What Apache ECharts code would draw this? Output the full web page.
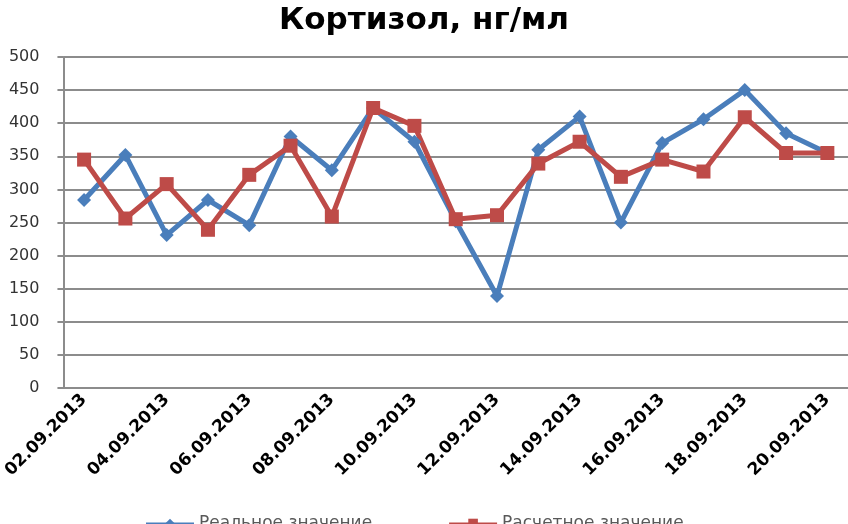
<!DOCTYPE html>
<html>
<head>
<meta charset="utf-8">
<script src="https://cdn.jsdelivr.net/npm/echarts@6/dist/echarts.min.js"></script>
<style>
  html, body { margin: 0; padding: 0; background: #fff; }
  #chart { width: 848px; height: 524px; }
</style>
</head>
<body>
<div id="chart"></div>
<script>
  // даты измерений
  var dates = ['02.09.2013', '03.09.2013', '04.09.2013', '05.09.2013', '06.09.2013',
    '07.09.2013', '08.09.2013', '09.09.2013', '10.09.2013', '11.09.2013',
    '12.09.2013', '13.09.2013', '14.09.2013', '15.09.2013', '16.09.2013',
    '17.09.2013', '18.09.2013', '19.09.2013', '20.09.2013'];
  var realValues = [284, 352, 231, 284, 246, 380, 329, 423, 372, 252,
    139, 360, 410, 250, 370, 406, 450, 385, 355];
  var calcValues = [345, 256, 308, 239, 322, 366, 259, 423, 396, 255,
    261, 339, 372, 319, 345, 327, 409, 355, 355];
  var yTicks = [0, 50, 100, 150, 200, 250, 300, 350, 400, 450, 500];

  var chart = echarts.init(document.getElementById('chart'));
  chart.setOption({
    animation: false,
    title: {
      text: 'Кортизол, нг/мл',
      left: 'center',
      top: 0,
      textStyle: {
        fontFamily: 'DejaVu Sans',
        fontWeight: 'bold',
        fontSize: 31,
        color: '#000'
      }
    },
    legend: {
      left: 140,
      top: 510,
      itemWidth: 48,
      itemHeight: 12,
      itemGap: 76,
      textStyle: {
        fontFamily: 'DejaVu Sans',
        fontSize: 17,
        color: '#595959'
      },
      data: ['Реальное значение', 'Расчетное значение']
    },
    grid: {
      left: 63,
      top: 57,
      right: -3,
      bottom: 136
    },
    xAxis: {
      type: 'category',
      data: dates,
      boundaryGap: true,
      axisLine: { lineStyle: { color: '#8c8c8c', width: 2 } },
      axisTick: { interval: 1, length: 5, lineStyle: { color: '#8c8c8c', width: 2 } },
      axisLabel: {
        interval: 1,
        rotate: 45,
        margin: 9,
        fontFamily: 'DejaVu Sans',
        fontWeight: 'bold',
        fontSize: 17,
        color: '#000'
      }
    },
    yAxis: {
      type: 'value',
      min: yTicks[0],
      max: yTicks[yTicks.length - 1],
      interval: 50,
      axisLine: { show: true, lineStyle: { color: '#8c8c8c', width: 2 } },
      axisTick: { show: true, length: 6, lineStyle: { color: '#8c8c8c', width: 2 } },
      splitLine: { lineStyle: { color: '#8c8c8c', width: 2 } },
      axisLabel: {
        margin: 24,
        fontFamily: 'DejaVu Sans',
        fontSize: 16,
        color: '#333'
      }
    },
    series: [
      {
        name: 'Реальное значение',
        type: 'line',
        data: realValues,
        symbol: 'diamond',
        symbolSize: 14,
        color: '#4a7ebb',
        lineStyle: { width: 5 }
      },
      {
        name: 'Расчетное значение',
        type: 'line',
        data: calcValues,
        symbol: 'rect',
        symbolSize: 14,
        color: '#be4b48',
        lineStyle: { width: 5 }
      }
    ]
  });
</script>
</body>
</html>
